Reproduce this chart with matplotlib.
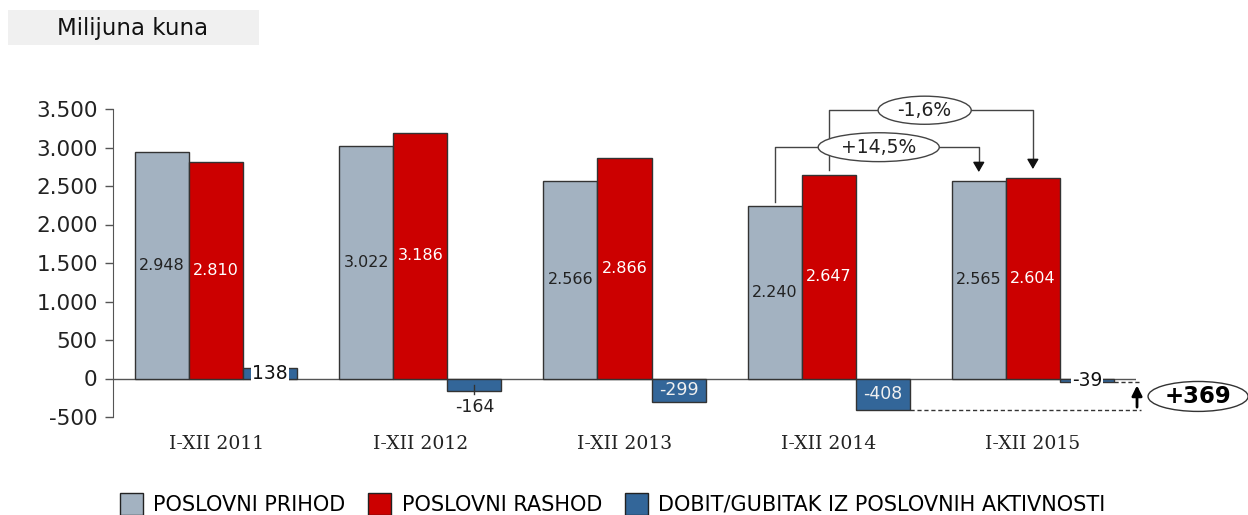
import matplotlib
matplotlib.use("Agg")
import matplotlib.pyplot as plt
from matplotlib.patches import Rectangle, Ellipse
import numpy as np

categories = ["I-XII 2011", "I-XII 2012", "I-XII 2013", "I-XII 2014", "I-XII 2015"]
prihod = [2948, 3022, 2566, 2240, 2565]
rashod = [2810, 3186, 2866, 2647, 2604]
dobit = [138, -164, -299, -408, -39]
series_names = ["POSLOVNI PRIHOD", "POSLOVNI RASHOD", "DOBIT/GUBITAK IZ POSLOVNIH AKTIVNOSTI"]
yticks = [-500, 0, 500, 1000, 1500, 2000, 2500, 3000, 3500]
ytick_labels = ["-500", "0", "500", "1.000", "1.500", "2.000", "2.500", "3.000", "3.500"]
pct_prihod = "+14,5%"
pct_rashod = "-1,6%"
delta_dobit = "+369"

C_GREY = "#A3B2C1"
C_RED = "#CC0000"
C_BLUE = "#336699"
EDGE = "#333333"

def fmt(v):
    s = f"{abs(v):,}".replace(",", ".")
    return ("-" if v < 0 else "") + s

fig = plt.figure(figsize=(12.48, 5.15), dpi=100)
ax = fig.add_axes([113/1248, 1-417/515, (1136-113)/1248, (417-109)/515])

x = np.arange(len(categories))
w = 0.265
ax.bar(x - w, prihod, w, color=C_GREY, edgecolor=EDGE, linewidth=1, zorder=2)
ax.bar(x, rashod, w, color=C_RED, edgecolor=EDGE, linewidth=1, zorder=2)
ax.bar(x + w, dobit, w, color=C_BLUE, edgecolor=EDGE, linewidth=1, zorder=2)

ax.set_xlim(-0.505, 4.505)
ax.set_ylim(-500, 3500)
ax.axhline(0, color="#555555", lw=1, zorder=1)

ax.set_yticks(yticks)
ax.set_yticklabels(ytick_labels, fontsize=15.5, color="#222222")
ax.tick_params(axis="y", direction="out", length=6, color="#555555", width=1, pad=5)
ax.set_xticks(x)
ax.set_xticklabels(categories, fontfamily="DejaVu Serif", fontsize=13.5, color="#222222")
ax.tick_params(axis="x", length=0, pad=13)
for s in ["top", "right", "bottom"]:
    ax.spines[s].set_visible(False)
ax.spines["left"].set_color("#555555")

# bar labels
for i in range(len(categories)):
    ax.text(x[i] - w, prihod[i] / 2, fmt(prihod[i]), ha="center", va="center",
            fontsize=11.5, color="#222222", zorder=3)
    ax.text(x[i], rashod[i] / 2, fmt(rashod[i]), ha="center", va="center",
            fontsize=11.5, color="white", zorder=3)

for i, v in enumerate(dobit):
    xc = x[i] + w
    if abs(v) < 100 or v > 0:
        ax.text(xc, v / 2, fmt(v), ha="center", va="center", fontsize=13.5, color="#111111",
                zorder=4, bbox=dict(boxstyle="square,pad=0.05", fc="white", ec="none"))
    elif v > -200:
        ax.plot([xc, xc], [v * 0.55, v * 1.26], color="#333333", lw=1, zorder=4)
        ax.text(xc, v - 200, fmt(v), ha="center", va="center", fontsize=12.5, color="#222222")
    else:
        ax.text(xc, v / 2, fmt(v), ha="center", va="center", fontsize=12.5, color="#f0f0f0", zorder=4)

# growth brackets
lc = "#444444"
y1 = 3004
ax.plot([3 - w, 3 - w, 4 - w, 4 - w], [prihod[3] + 50, y1, y1, prihod[4] + 170], color=lc, lw=1, zorder=5, clip_on=False)
ax.annotate("", xy=(4 - w, prihod[4] + 80), xytext=(4 - w, prihod[4] + 200),
            arrowprops=dict(arrowstyle="-|>,head_width=0.35,head_length=0.6", color="#111111", lw=1), zorder=5)
y2 = 3484
ax.plot([3, 3, 4, 4], [rashod[3] + 60, y2, y2, rashod[4] + 170], color=lc, lw=1, zorder=4, clip_on=False)
ax.annotate("", xy=(4, rashod[4] + 80), xytext=(4, rashod[4] + 200),
            arrowprops=dict(arrowstyle="-|>,head_width=0.35,head_length=0.6", color="#111111", lw=1), zorder=5)

ax.add_patch(Ellipse((3.47, y2), 0.456, 365, fc="white", ec="#444444", lw=1, zorder=6, clip_on=False))
ax.text(3.47, y2, pct_rashod, ha="center", va="center", fontsize=13.5, color="#222222", zorder=7, clip_on=False)
ax.add_patch(Ellipse((3.245, y1), 0.593, 375, fc="white", ec="#444444", lw=1, zorder=6, clip_on=False))
ax.text(3.245, y1, pct_prihod, ha="center", va="center", fontsize=13.5, color="#222222", zorder=7)

# dobit change 2014 -> 2015
xr = 4.53
ax.plot([3 + w + w / 2, xr], [dobit[3], dobit[3]], color="#333333", lw=1, ls=(0, (3, 2)), zorder=3, clip_on=False)
ax.plot([4 + w + w / 2, xr], [dobit[4], dobit[4]], color="#333333", lw=1, ls=(0, (3, 2)), zorder=3, clip_on=False)
ax.annotate("", xy=(4.51, dobit[4] - 15), xytext=(4.51, dobit[3]),
            arrowprops=dict(arrowstyle="-|>,head_width=0.3,head_length=0.6", color="black", lw=2),
            annotation_clip=False)
ax.add_patch(Ellipse((4.809, -233), 0.49, 389, fc="white", ec="#333333", lw=1, zorder=6, clip_on=False))
ax.text(4.809, -233, delta_dobit, ha="center", va="center", fontsize=16.5, fontweight="bold",
        color="black", zorder=7, clip_on=False)

# title box
fig.patches.append(Rectangle((8/1248, 1-45/515), (259-8)/1248, 35/515, transform=fig.transFigure,
                             fc="#F0F0F0", ec="none", zorder=0))
fig.text(133/1248, 1-28/515, "Milijuna kuna", ha="center", va="center", fontsize=16.5, color="#111111")

# legend
handles = [Rectangle((0, 0), 1, 1, fc=c, ec="#222222", lw=1) for c in (C_GREY, C_RED, C_BLUE)]
fig.legend(handles, series_names, loc="center", bbox_to_anchor=(0.491, 1-504/515), ncol=3,
           frameon=False, handlelength=1.1, handleheight=1.3, handletextpad=0.5, columnspacing=1.1,
           prop=dict(size=15))

fig.savefig("out.png", dpi=100)
